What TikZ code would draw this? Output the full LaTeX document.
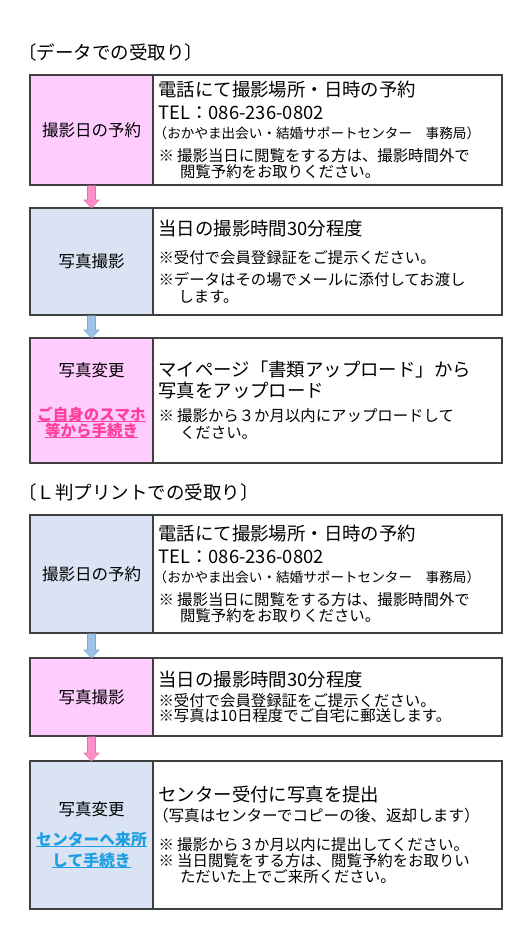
\documentclass[tikz,border=0pt]{standalone}
\usepackage{fontspec}
\setmainfont{Noto Sans CJK JP}
\usetikzlibrary{positioning, calc}
\setlength{\parindent}{0pt}

\definecolor{phasepink}{HTML}{FFCCFF}
\definecolor{phaseblue}{HTML}{DAE3F3}
\definecolor{framegray}{HTML}{404040}
\definecolor{arrowpink}{HTML}{FF8FC8}
\definecolor{arrowpinkedge}{HTML}{F06AAE}
\definecolor{arrowblue}{HTML}{9DC3E6}
\definecolor{arrowblueedge}{HTML}{7CA6D6}
\definecolor{linkpink}{HTML}{FF4099}
\definecolor{linkblue}{HTML}{1E9FE3}

% one line of text: size, baselineskip, text
\newcommand{\txtline}[3]{{\fontsize{#1}{#2}\selectfont #3\par}}
% underlined link text
\newcommand{\linkline}[1]{\leavevmode\setbox0\hbox{#1}\rlap{\rule[-1pt]{\wd0}{0.9pt}}\box0}
% block arrow between two stacked boxes
\newcommand{\flowarrow}[3]{%
  \filldraw[#3] ($(#1.south)+(-4,-0.6)$) -- ($(#2.north)+(-4,8)$) -- ($(#2.north)+(-7.5,8)$)
    -- (#2.north) -- ($(#2.north)+(7.5,8)$) -- ($(#2.north)+(4,8)$) -- ($(#1.south)+(4,-0.6)$);}

\begin{document}
\begin{tikzpicture}[x=1pt, y=1pt,
  phase/.style={draw=framegray, line width=1.2pt, fill=#1, outer sep=0pt, minimum width=123pt, text width=113pt, inner xsep=5pt, inner ysep=0pt, align=center},
  detail/.style={draw=framegray, line width=1.2pt, fill=white, outer sep=0pt, minimum width=349pt, text width=338pt, inner xsep=5.5pt, inner ysep=0pt, align=left},
  heading/.style={anchor=west, inner sep=0pt, font=\fontsize{18.5}{22}\selectfont},
  pinkflow/.style={fill=arrowpink, draw=arrowpinkedge, line width=0.6pt},
  blueflow/.style={fill=arrowblue, draw=arrowblueedge, line width=0.6pt}
]
\fill[white] (0,0) rectangle (529,-945);
\useasboundingbox (0,0) rectangle (529,-945);

% データでの受取り
\node[heading] (dHead) at (18,-52) {〔データでの受取り〕};

\node[phase=phasepink, minimum height=110pt, anchor=north west] (dReserve) at (30,-75) {\txtline{16.5}{20}{撮影日の予約}};
\node[detail, minimum height=110pt, right=0pt of dReserve] (dReserveInfo) {%
  \txtline{18.4}{22}{電話にて撮影場所・日時の予約}
  \txtline{18.4}{23}{TEL：086-236-0802}
  \txtline{13.6}{19.3}{\hspace*{-0.35em}（おかやま出会い・結婚サポートセンター　事務局）}
  \txtline{15.4}{22.6}{※ 撮影当日に閲覧をする方は、撮影時間外で}
  \txtline{15.4}{16}{\hspace*{1.4em}閲覧予約をお取りください。}};

\node[phase=phaseblue, minimum height=107pt, below=23pt of dReserve] (dShoot) {\txtline{16.5}{20}{写真撮影}};
\node[detail, minimum height=107pt, right=0pt of dShoot] (dShootInfo) {%
  \txtline{18.4}{22}{当日の撮影時間30分程度}
  \txtline{15.4}{27.9}{※受付で会員登録証をご提示ください。}
  \txtline{15.4}{22}{※データはその場でメールに添付してお渡し}
  \txtline{15.4}{17}{\hspace*{1.3em}します。}};

\node[phase=phasepink, minimum height=125pt, below=23pt of dShoot] (dChange) {%
  \txtline{16.5}{20}{写真変更}
  \txtline{15.5}{44.6}{\color{linkpink}\bfseries\linkline{ご自身のスマホ}}
  \txtline{15.5}{16}{\color{linkpink}\bfseries\linkline{等から手続き}}};
\node[detail, minimum height=125pt, right=0pt of dChange] (dChangeInfo) {%
  \txtline{18.4}{22}{マイページ「書類アップロード」から}
  \txtline{18.4}{21}{写真をアップロード}
  \txtline{15.4}{23.9}{※ 撮影から３か月以内にアップロードして}
  \txtline{15.4}{17}{\hspace*{1.4em}ください。}};

\flowarrow{dReserve}{dShoot}{pinkflow}
\flowarrow{dShoot}{dChange}{blueflow}

% Ｌ判プリントでの受取り
\node[heading] (pHead) at (18,-492) {〔Ｌ判プリントでの受取り〕};

\node[phase=phaseblue, minimum height=118pt, below=52pt of dChange] (pReserve) {\txtline{16.5}{20}{撮影日の予約}};
\node[detail, minimum height=118pt, right=0pt of pReserve] (pReserveInfo) {%
  \txtline{18.4}{22}{電話にて撮影場所・日時の予約}
  \txtline{18.4}{23}{TEL：086-236-0802}
  \txtline{13.6}{19.3}{\hspace*{-0.35em}（おかやま出会い・結婚サポートセンター　事務局）}
  \txtline{15.4}{22.6}{※ 撮影当日に閲覧をする方は、撮影時間外で}
  \txtline{15.4}{16}{\hspace*{1.4em}閲覧予約をお取りください。}};

\node[phase=phasepink, minimum height=78pt, below=25pt of pReserve] (pShoot) {\txtline{16.5}{20}{写真撮影}};
\node[detail, minimum height=78pt, right=0pt of pShoot] (pShootInfo) {%
  \txtline{18.4}{22}{当日の撮影時間30分程度}
  \txtline{15.4}{19.5}{※受付で会員登録証をご提示ください。}
  \txtline{15.4}{15.5}{※写真は10日程度でご自宅に郵送します。}};

\node[phase=phaseblue, minimum height=148pt, below=25pt of pShoot] (pChange) {%
  \txtline{16.5}{20}{写真変更}
  \txtline{15.8}{29.8}{\color{linkblue}\bfseries\linkline{センターへ来所}}
  \txtline{15.8}{21}{\color{linkblue}\bfseries\linkline{して手続き}}};
\node[detail, minimum height=148pt, right=0pt of pChange] (pChangeInfo) {%
  \txtline{18.4}{22}{センター受付に写真を提出}
  \txtline{15.6}{19.1}{\hspace*{-0.35em}（写真はセンターでコピーの後、返却します）}
  \txtline{15.4}{29.8}{※ 撮影から３か月以内に提出してください。}
  \txtline{15.4}{15.5}{※ 当日閲覧をする方は、閲覧予約をお取りい}
  \txtline{15.4}{16}{\hspace*{1.4em}ただいた上でご来所ください。}};

\flowarrow{pReserve}{pShoot}{blueflow}
\flowarrow{pShoot}{pChange}{pinkflow}
\end{tikzpicture}
\end{document}
